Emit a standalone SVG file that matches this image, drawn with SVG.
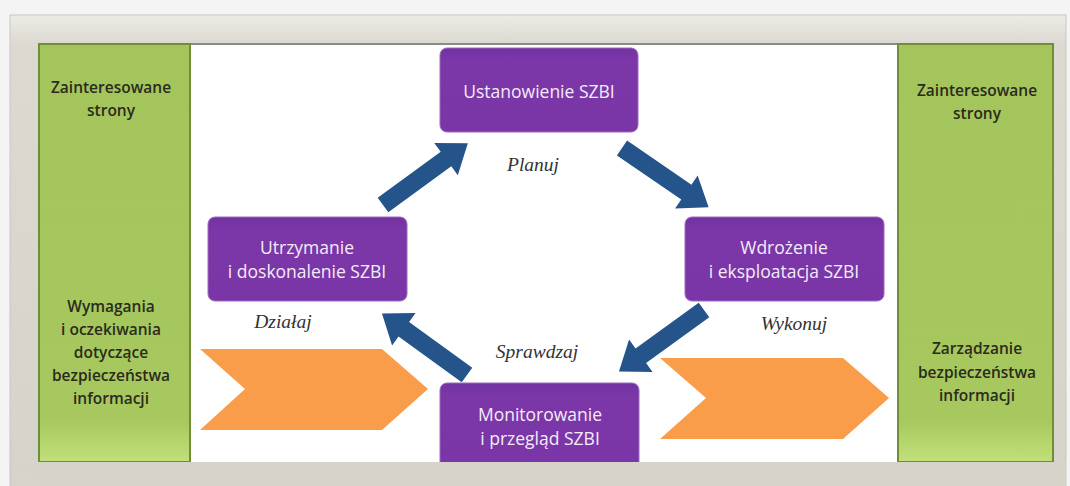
<svg xmlns="http://www.w3.org/2000/svg" width="1070" height="486" viewBox="0 0 1070 486">
<defs>
<style>
.g{font-family:"Open Sans","Liberation Sans",sans-serif;font-size:15.5px;font-weight:600;fill:#2b2b1c;text-anchor:middle}
.p{font-family:"Open Sans","Liberation Sans",sans-serif;font-size:17.5px;fill:#f3ecf7;text-anchor:middle}
.l{font-family:"Liberation Serif",serif;font-style:italic;font-size:19.5px;fill:#333;text-anchor:middle}
.box{fill:url(#pg);stroke:#9a6ac0;stroke-width:1}
.arr{fill:#24548a}
.chev{fill:#f99d4b}
.green{fill:url(#gg);stroke:#6f8f33;stroke-width:2}
</style>
<linearGradient id="pg" x1="0" y1="0" x2="0" y2="1">
<stop offset="0" stop-color="#7232a0"/>
<stop offset="0.15" stop-color="#7b37a8"/>
<stop offset="1" stop-color="#7a36a6"/>
</linearGradient>
<linearGradient id="gg" x1="0" y1="0" x2="0" y2="1">
<stop offset="0" stop-color="#a3c55c"/>
<stop offset="0.9" stop-color="#a6c85e"/>
<stop offset="1" stop-color="#c2e07a"/>
</linearGradient>
<linearGradient id="fr" x1="0" y1="0" x2="0" y2="1">
<stop offset="0" stop-color="#ecebe6"/>
<stop offset="0.06" stop-color="#dcd9d1"/>
<stop offset="1" stop-color="#d6d3cb"/>
</linearGradient>
<path id="ar" d="M0,-9 L78,-9 L78,-20 L105,0 L78,20 L78,9 L0,9 Z"/>
</defs>
<rect x="0" y="0" width="1070" height="486" fill="#f4f4f4"/>
<rect x="10" y="15" width="1056" height="480" fill="url(#fr)" stroke="#c9c6be" stroke-width="1"/>
<rect x="38" y="43" width="1015" height="419" fill="#ffffff"/>
<line x1="38" y1="44" x2="1053" y2="44" stroke="#8a8a86" stroke-width="2"/>

<g id="left-panel">
<rect class="green" x="39" y="44" width="151" height="418"/>
<text class="g" x="111" y="93">Zainteresowane</text>
<text class="g" x="111" y="116">strony</text>
<text class="g" x="111" y="312">Wymagania</text>
<text class="g" x="111" y="335">i oczekiwania</text>
<text class="g" x="111" y="358">dotyczące</text>
<text class="g" x="111" y="381">bezpieczeństwa</text>
<text class="g" x="111" y="404">informacji</text>
</g>
<g id="right-panel">
<rect class="green" x="898" y="44" width="155" height="418"/>
<text class="g" x="977" y="96">Zainteresowane</text>
<text class="g" x="977" y="119">strony</text>
<text class="g" x="977" y="354">Zarządzanie</text>
<text class="g" x="977" y="378">bezpieczeństwa</text>
<text class="g" x="977" y="401">informacji</text>
</g>

<g id="chevrons">
<polygon class="chev" points="200,349 382,349 428,389 382,430 200,430 245,389"/>
<polygon class="chev" points="660,358 843,358 889,398 843,439 660,439 706,398"/>
</g>

<g id="connectors">
<use href="#ar" class="arr" transform="translate(383,205) rotate(-36.1)"/>
<use href="#ar" class="arr" transform="translate(622,148) rotate(34.4)"/>
<use href="#ar" class="arr" transform="translate(704,310) rotate(144.1)"/>
<use href="#ar" class="arr" transform="translate(467,375) rotate(-144.1)"/>
</g>

<g id="labels">
<text class="l" x="533" y="171">Planuj</text>
<text class="l" x="283" y="328">Działaj</text>
<text class="l" x="537" y="358">Sprawdzaj</text>
<text class="l" x="794" y="330">Wykonuj</text>
</g>

<g id="node-ustanowienie">
<rect class="box" x="440" y="48" width="198" height="84" rx="7"/>
<text class="p" x="539" y="98">Ustanowienie SZBI</text>
</g>
<g id="node-utrzymanie">
<rect class="box" x="208" y="217" width="199" height="84" rx="7"/>
<text class="p" x="307" y="254">Utrzymanie</text>
<text class="p" x="307" y="278">i doskonalenie SZBI</text>
</g>
<g id="node-wdrozenie">
<rect class="box" x="685" y="217" width="199" height="84" rx="7"/>
<text class="p" x="784" y="254">Wdrożenie</text>
<text class="p" x="784" y="278">i eksploatacja SZBI</text>
</g>
<g id="node-monitorowanie">
<rect class="box" x="440" y="383" width="199" height="90" rx="7"/>
<text class="p" x="540" y="421">Monitorowanie</text>
<text class="p" x="540" y="445">i przegląd SZBI</text>
</g>
<rect x="38" y="462" width="1028" height="24" fill="#d6d3cb"/>
</svg>
